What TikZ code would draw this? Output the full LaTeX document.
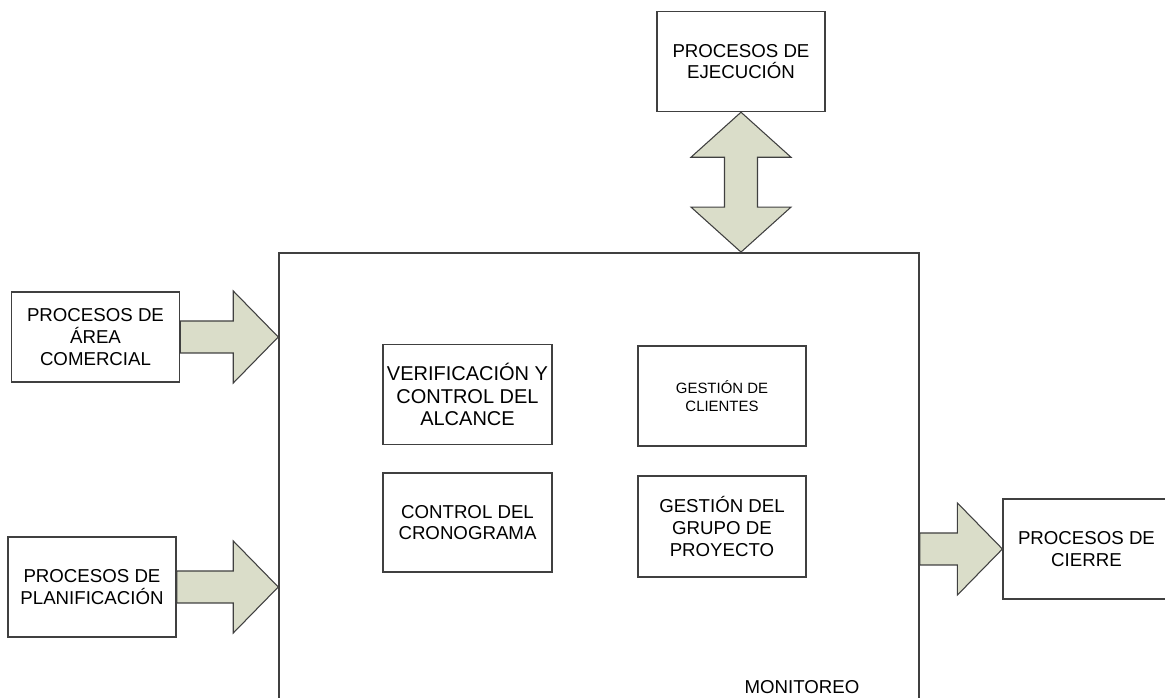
\documentclass[tikz,border=0pt]{standalone}
\usepackage{fontspec}
\setmainfont{Liberation Sans}
\usetikzlibrary{calc,positioning}
\definecolor{gristrazo}{HTML}{404040}
\definecolor{grisflecha}{HTML}{DADDC9}
\tikzset{
  caja/.style={draw=gristrazo,line width=1.1pt,fill=white,align=center,inner sep=0pt,
    minimum width=126pt,minimum height=75pt,font=\fontsize{14}{16.3}\selectfont},
  flecha/.style={draw=gristrazo,line width=0.8pt,fill=grisflecha,line join=miter},
}
% block arrow pointing right, from #1 to #2 (both at the same height)
\newcommand\flechader[2]{%
  \draw[flecha] ($(#1)+(0,-16)$) -- ($(#2)+(-45,-16)$) -- ($(#2)+(-45,-46)$) -- (#2)
    -- ($(#2)+(-45,46)$) -- ($(#2)+(-45,16)$) -- ($(#1)+(0,16)$) -- cycle
}

\begin{document}
\begin{tikzpicture}[x=0.75pt,y=-0.75pt]
        \useasboundingbox (0,0) rectangle (1165,698);
        \clip (0,0) rectangle (1165,698);

        % The big box
        \node[caja,minimum width=480pt,minimum height=358pt] (monit) at (599,491.5) {};
        \node[font=\fontsize{14}{16.3}\selectfont,anchor=base] (etiq) at (802,693) {MONITOREO};

        % Boxes round it
        \node[caja] (ejec) at (741,61.5) {PROCESOS DE\\EJECUCIÓN};
        \node[caja,minimum height=67.5pt] (com) at (95.5,337) {PROCESOS DE\\ÁREA\\COMERCIAL};
        \node[caja] (plan) at (92,587) {PROCESOS DE\\PLANIFICACIÓN};
        \node[caja,minimum width=125pt] (cierre) at (1086.5,549) {PROCESOS DE\\CIERRE};

        % Boxes inside
        \node[caja,minimum width=127pt,font=\fontsize{15}{17}\selectfont] (alcance) at (467.5,394.5) {VERIFICACIÓN Y\\CONTROL DEL\\ALCANCE};
        \node[caja,minimum width=127pt,minimum height=74pt] (crono) at (467.5,522.5) {CONTROL DEL\\CRONOGRAMA};
        \node[caja,font=\fontsize{11.2}{13.8}\selectfont] (clientes) at (722,396) {GESTIÓN DE\\CLIENTES};
        \node[caja,minimum height=76pt] (grupo) at (722,526.5) {GESTIÓN DEL\\GRUPO DE\\PROYECTO};

        % The arrows
        \coordinate (c1) at (monit.west |- com.east);
        \coordinate (c2) at (monit.west |- plan.east);
        \coordinate (c3) at (monit.east |- cierre.west);
        \coordinate (c4) at (monit.north -| ejec.south);
        \flechader{com.east}{c1};
        \flechader{plan.east}{c2};
        \flechader{c3}{cierre.west};
        \draw[flecha] (ejec.south) -- ++(50,45) -- ++(-33.5,0) -- ($(c4)+(16.5,-45)$) -- ++(33.5,0)
          -- (c4) -- ++(-50,-45) -- ++(33.5,0) -- ($(ejec.south)+(-16.5,45)$) -- ++(-33.5,0) -- cycle;
    \end{tikzpicture}
\end{document}
